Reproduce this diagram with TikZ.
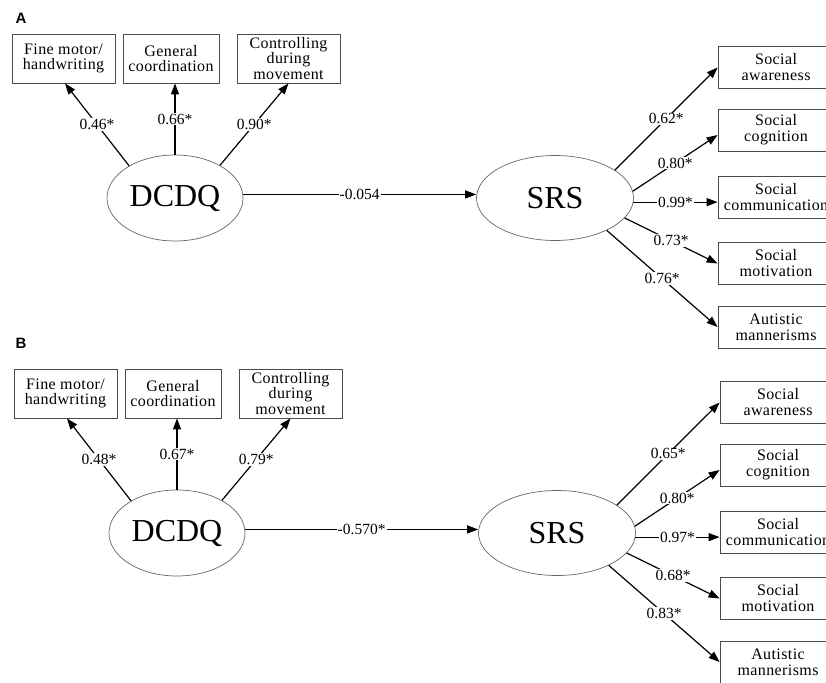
\documentclass[tikz,border=0pt]{standalone}
\usepackage{fontspec}
\setmainfont{Liberation Serif}
\setsansfont{Liberation Sans}
\newfontfamily\boxfont[LetterSpace=2.5]{Liberation Serif}
\usetikzlibrary{arrows.meta,shapes.geometric}
\tikzset{
  indbox/.style={draw=black!70, line width=0.8pt, rectangle, inner sep=0pt,
    minimum height=49pt, align=center, font=\boxfont\fontsize{16}{15.5}\selectfont},
  outbox/.style={draw=black!70, line width=0.8pt, rectangle, inner sep=0pt,
    minimum width=116pt, minimum height=42pt, align=center, font=\boxfont\fontsize{16}{16}\selectfont},
  latent/.style={draw=black!60, line width=0.7pt, ellipse, inner sep=0pt,
    font=\fontsize{32}{32}\selectfont},
  semarrow/.style={draw=black, line width=1.2pt, -{Triangle[length=11pt,width=8pt]}},
  lbl/.style={fill=white, inner sep=1pt, midway, font=\fontsize{15.5}{15.5}\selectfont},
  panelletter/.style={font=\sffamily\bfseries\fontsize{15}{15}\selectfont, inner sep=0pt}
}
\newcommand\sempanel[9]{%
  \node[indbox, minimum width=103pt] (fm) at (63.5,58.5) {Fine motor/\\handwriting};
  \node[indbox, minimum width=96pt] (gc) at (171,58.5) {General\\coordination};
  \node[indbox, minimum width=103pt] (cdm) at (288.5,58.5) {Controlling\\during\\movement};
  \node[latent, minimum width=136pt, minimum height=86pt] (dcdq) at (175,198) {DCDQ};
  \node[latent, minimum width=157pt, minimum height=85pt] (srs) at (555,198) {SRS};
  \node[outbox] (saw) at (776,67.5) {Social\\awareness};
  \node[outbox] (scg) at (776,130) {Social\\cognition};
  \node[outbox] (scm) at (776,197) {Social\\communication};
  \node[outbox] (smo) at (776,263.5) {Social\\motivation};
  \node[outbox] (sam) at (776,327) {Autistic\\mannerisms};
  \draw[semarrow] (dcdq.145) -- node[lbl]{#1} ([xshift=1.5pt]fm.south);
  \draw[semarrow] (dcdq.north) -- node[lbl]{#2} (dcdq.north |- gc.south);
  \draw[semarrow] (dcdq.36) -- node[lbl]{#3} (cdm.south);
  \draw[semarrow] (dcdq.3) -- node[lbl]{#4} (dcdq.3 -| srs.west);
  \draw[semarrow] (srs.25) -- node[lbl]{#5} (saw.west);
  \draw[semarrow] (srs.5) -- node[lbl]{#6} ([yshift=-5pt]scg.west);
  \draw[semarrow] (srs.-3) -- node[lbl]{#7} (srs.-3 -| scm.west);
  \draw[semarrow] (srs.-16) -- node[lbl]{#8} (smo.west);
  \draw[semarrow] (srs.-32) -- node[lbl]{#9} (sam.west);
}
\begin{document}
\begin{tikzpicture}[x=1pt,y=-1pt]
  \useasboundingbox (0,0) rectangle (826,682);
  \clip (0,0) rectangle (826,682);
  \fill[white] (0,0) rectangle (826,682);
  \node[panelletter] (la) at (21,18) {A};
  \node[panelletter] (lb) at (21,343) {B};
  \begin{scope}[name prefix=a-]
    \sempanel{0.46*}{0.66*}{0.90*}{-0.054}{0.62*}{0.80*}{0.99*}{0.73*}{0.76*}
  \end{scope}
  \begin{scope}[name prefix=b-, shift={(2,335)}]
    \sempanel{0.48*}{0.67*}{0.79*}{-0.570*}{0.65*}{0.80*}{0.97*}{0.68*}{0.83*}
  \end{scope}
\end{tikzpicture}
\end{document}
